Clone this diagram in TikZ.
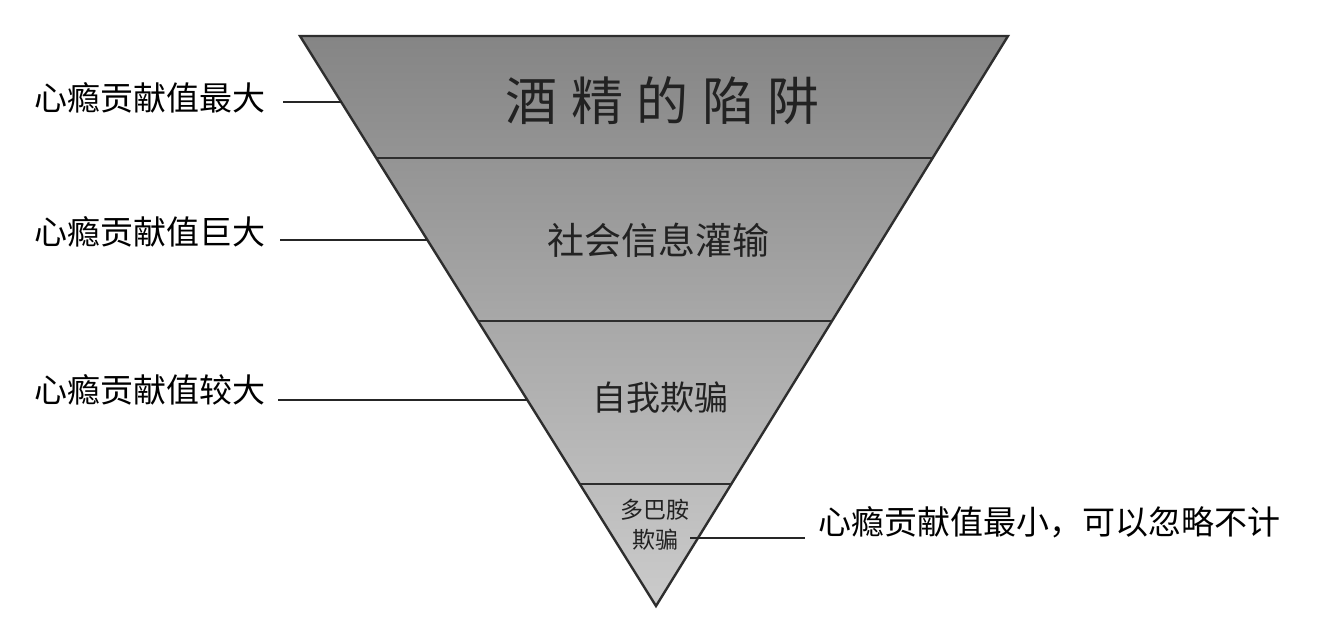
\documentclass[tikz,border=0pt]{standalone}
\usepackage{fontspec}
\usetikzlibrary{calc}
\newfontfamily\cjk{Noto Sans CJK SC}
\definecolor{edgegray}{HTML}{2E2E2E}
\definecolor{toptone}{HTML}{858585}
\definecolor{bottone}{HTML}{CBCBCB}
\definecolor{bandtext}{HTML}{222222}
\tikzset{
  edge/.style={draw=edgegray, line width=2.4pt, line join=miter},
  divider/.style={draw=edgegray, line width=2.6pt},
  leader/.style={draw=black!85, line width=2.3pt},
  sidelabel/.style={font=\cjk\fontsize{33}{36}\selectfont, text=black, inner sep=0pt},
  bandlabel/.style={font=\cjk, text=bandtext, inner sep=0pt, align=center},
}
\begin{document}
\begin{tikzpicture}[x=1pt,y=-1pt]
\useasboundingbox (0,0) rectangle (1318,643);
% triangle corners
\coordinate (tl) at (300,36);
\coordinate (tr) at (1008,36);
\coordinate (ap) at (656,606);
% divider end points
\coordinate (d1l) at ($(tl)!0.2140!(ap)$);
\coordinate (d1r) at ($(tr)!0.2140!(ap)$);
\coordinate (d2l) at ($(tl)!0.5!(ap)$);
\coordinate (d2r) at ($(tr)!0.5!(ap)$);
\coordinate (d3l) at ($(tl)!0.786!(ap)$);
\coordinate (d3r) at ($(tr)!0.786!(ap)$);
% fill
\shade[top color=toptone, bottom color=bottone] (tl) -- (tr) -- (ap) -- cycle;
% dividers
\draw[divider] (d1l) -- (d1r);
\draw[divider] (d2l) -- (d2r);
\draw[divider] (d3l) -- (d3r);
% outline
\draw[edge] (tl) -- (tr) -- (ap) -- cycle;
% band texts
\node[bandlabel, font=\cjk\fontsize{52}{56}\selectfont\addfontfeature{LetterSpace=26}] (b1) at (663,101) {酒精的陷阱};
\node[bandlabel, font=\cjk\fontsize{37}{40}\selectfont] (b2) at (658,240) {社会信息灌输};
\node[bandlabel, font=\cjk\fontsize{34}{38}\selectfont] (b3) at (660,398) {自我欺骗};
\node[bandlabel, font=\cjk\fontsize{23}{30}\selectfont] (b4) at (655,525) {多巴胺\\欺骗};
% edge points for leaders
\coordinate (e1) at (342,102);
\coordinate (e2) at (427,240);
\coordinate (e3) at (527,400);
\coordinate (e4) at (690,538);
\coordinate (e4r) at (805,538);
% side labels
\node[sidelabel, anchor=east] (l1) at (266,98) {心瘾贡献值最大};
\node[sidelabel, anchor=east] (l2) at (266,232) {心瘾贡献值巨大};
\node[sidelabel, anchor=east] (l3) at (266,390) {心瘾贡献值较大};
\node[sidelabel, anchor=west] (l4) at (818,522) {心瘾贡献值最小，可以忽略不计};
% leaders
\draw[leader] (l1.east |- e1) ++(17,0) -- (e1);
\draw[leader] (l2.east |- e2) ++(14,0) -- (e2);
\draw[leader] (l3.east |- e3) ++(12,0) -- (e3);
\draw[leader] (e4) -- (e4r);
\end{tikzpicture}
\end{document}
